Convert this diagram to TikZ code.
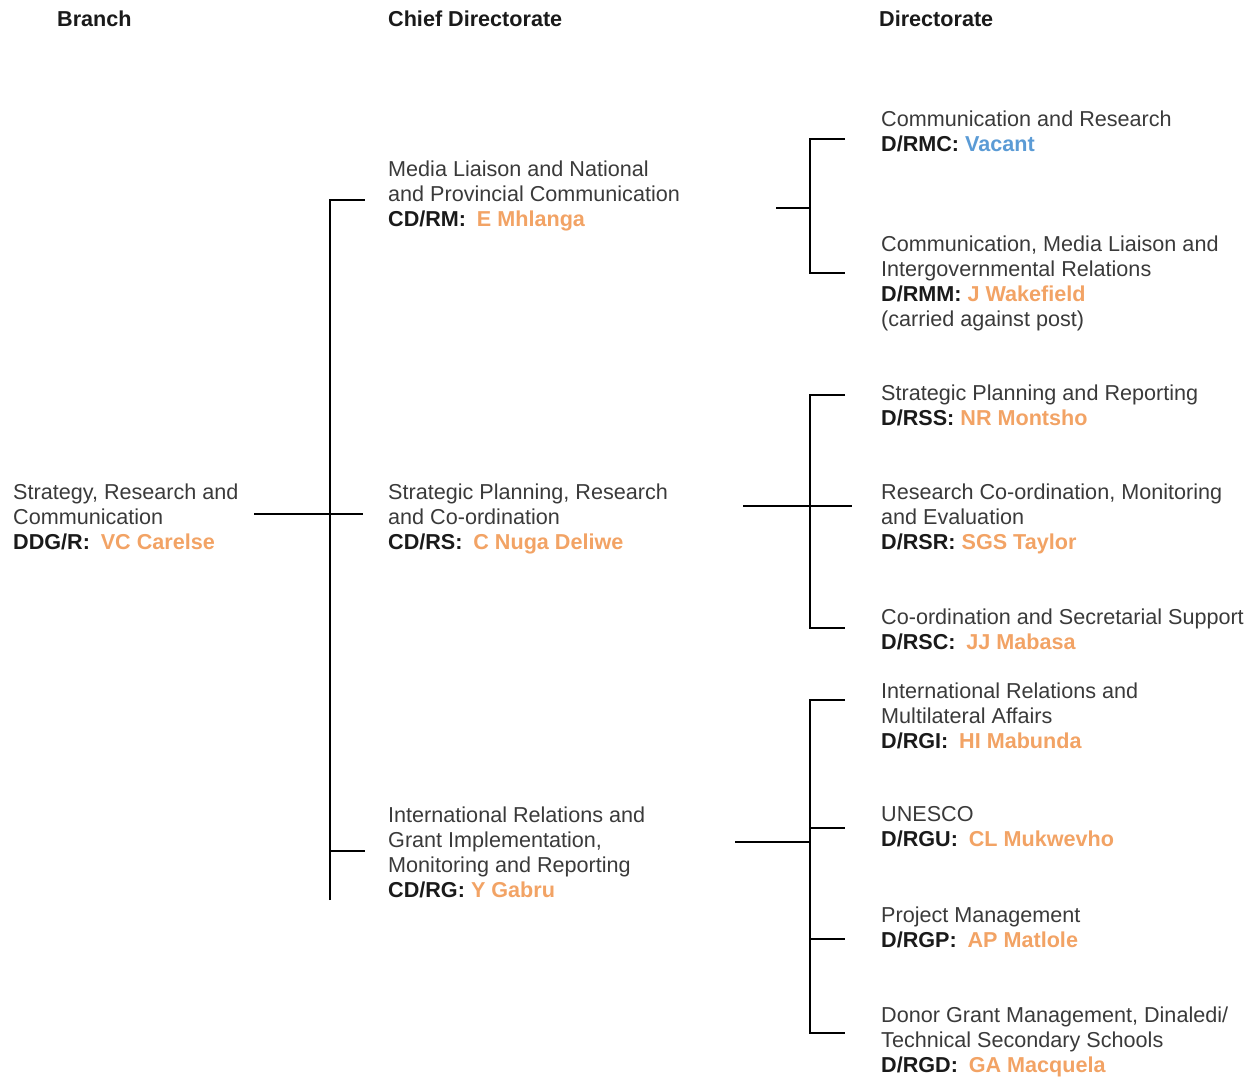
\documentclass[tikz,border=0pt]{standalone}
\usepackage{fontspec}
\setmainfont{Liberation Sans}
\definecolor{ink}{HTML}{3A3A3A}
\definecolor{inkb}{HTML}{1A1A1A}
\definecolor{holder}{HTML}{F2A365}
\definecolor{vacant}{HTML}{5B9BD5}
% post code in bold, holder name in orange
\newcommand{\postcode}[1]{\textbf{\color{inkb}#1}}
\newcommand{\holder}[1]{\textbf{\color{holder}#1}}
\begin{document}
\begin{tikzpicture}[x=1pt,y=-1pt,
  entry/.style={anchor=north west,inner sep=0pt,align=left,text=ink,
    font=\fontsize{21.6}{25}\selectfont,execute at begin node=\strut},
  head/.style={entry,font=\fontsize{21.6}{25}\selectfont\bfseries,text=inkb},
  link/.style={line width=2pt,draw=black}]
\useasboundingbox (0,0) rectangle (1257,1077);

% column headings
\node[head] (hBranch) at (57,8.5) {Branch};
\node[head] (hChief) at (388,8.5) {Chief Directorate};
\node[head] (hDir) at (879,8.5) {Directorate};

% branch
\node[entry] (branch) at (13,483.5) {Strategy, Research and\\Communication\\\postcode{DDG/R:}\enspace\holder{VC Carelse}};

% chief directorates
\node[entry] (cdrm) at (388,160.5) {Media Liaison and National\\and Provincial Communication\\\postcode{CD/RM:}\enspace\holder{E Mhlanga}};
\node[entry] (cdrs) at (388,483.5) {Strategic Planning, Research\\and Co-ordination\\\postcode{CD/RS:}\enspace\holder{C Nuga Deliwe}};
\node[entry] (cdrg) at (388,806.5) {International Relations and\\Grant Implementation,\\Monitoring and Reporting\\\postcode{CD/RG:} \holder{Y Gabru}};

% directorates
\node[entry] (drmc) at (881,110.5) {Communication and Research\\\postcode{D/RMC:} \textbf{\color{vacant}Vacant}};
\node[entry] (drmm) at (881,235.5) {Communication, Media Liaison and\\Intergovernmental Relations\\\postcode{D/RMM:} \holder{J Wakefield}\\(carried against post)};
\node[entry] (drss) at (881,384.5) {Strategic Planning and Reporting\\\postcode{D/RSS:} \holder{NR Montsho}};
\node[entry] (drsr) at (881,483.5) {Research Co-ordination, Monitoring\\and Evaluation\\\postcode{D/RSR:} \holder{SGS Taylor}};
\node[entry] (drsc) at (881,608.5) {Co-ordination and Secretarial Support\\\postcode{D/RSC:}\enspace\holder{JJ Mabasa}};
\node[entry] (drgi) at (881,682.5) {International Relations and\\Multilateral Affairs\\\postcode{D/RGI:}\enspace\holder{HI Mabunda}};
\node[entry] (drgu) at (881,806.5) {UNESCO\\\postcode{D/RGU:}\enspace\holder{CL Mukwevho}};
\node[entry] (drgp) at (881,906.5) {Project Management\\\postcode{D/RGP:}\enspace\holder{AP Matlole}};
\node[entry] (drgd) at (881,1006.5) {Donor Grant Management, Dinaledi/\\Technical Secondary Schools\\\postcode{D/RGD:}\enspace\holder{GA Macquela}};

% branch to chief directorates
\coordinate (bIn) at (254,514);
\coordinate (bOut) at (363,514);
\coordinate (spTop) at (330,200);
\coordinate (spBot) at (330,900);
\coordinate (tRM) at (365,200);
\coordinate (tRG) at (365,851);
\draw[link] (bIn) -- (bOut);
\draw[link] (spBot) -- (spTop) -- (tRM);
\draw[link] (spBot |- tRG) -- (tRG);

% CD/RM to its directorates
\coordinate (rmIn) at (776,208);
\coordinate (rmTop) at (845,139);
\coordinate (rmBot) at (845,273);
\draw[link] (rmIn) -- (810,208);
\draw[link] (rmTop) -- (810,139) -- (810,273) -- (rmBot);

% CD/RS to its directorates
\coordinate (rsIn) at (743,506);
\coordinate (rsOut) at (852,506);
\coordinate (rsTop) at (845,395);
\coordinate (rsBot) at (845,628);
\draw[link] (rsIn) -- (rsOut);
\draw[link] (rsTop) -- (810,395) -- (810,628) -- (rsBot);

% CD/RG to its directorates
\coordinate (rgIn) at (735,842);
\coordinate (rgA) at (845,700);
\coordinate (rgB) at (845,828);
\coordinate (rgC) at (845,939);
\coordinate (rgD) at (845,1033);
\draw[link] (rgIn) -- (810,842);
\draw[link] (rgA) -- (810,700) -- (810,1033) -- (rgD);
\draw[link] (810,828) -- (rgB);
\draw[link] (810,939) -- (rgC);
\end{tikzpicture}
\end{document}
